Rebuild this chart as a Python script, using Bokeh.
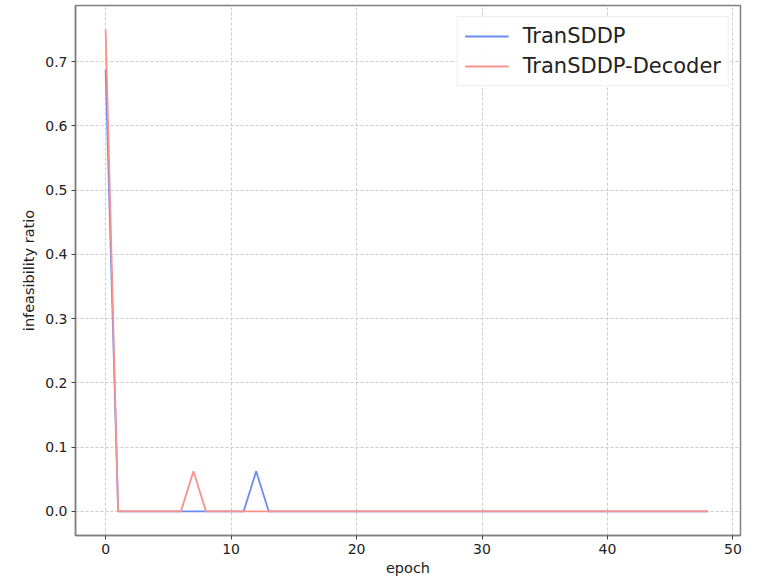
from bokeh.plotting import figure
from bokeh.models import Range1d, FixedTicker, Legend, LegendItem, CustomJSTickFormatter
from bokeh.embed import file_html
from bokeh.resources import INLINE

epochs = list(range(49))
transddp = [0.6875] + [0.0] * 48
transddp[12] = 0.0625
decoder = [0.75] + [0.0] * 48
decoder[7] = 0.0625

x_ticks = [0, 10, 20, 30, 40, 50]
y_ticks = [0.0, 0.1, 0.2, 0.3, 0.4, 0.5, 0.6, 0.7]

FONT = "DejaVu Sans"

p = figure(width=760, height=578, output_backend="svg", toolbar_location=None,
           x_range=Range1d(-2.4, 50.6), y_range=Range1d(-0.0375, 0.7875),
           min_border_left=75, min_border_right=20, min_border_top=5, min_border_bottom=43,
           x_axis_label="epoch", y_axis_label="infeasibility ratio")

p.outline_line_color = "#808080"
p.outline_line_width = 1.5

r1 = p.line(epochs, transddp, line_color="#6a8cf0", line_width=1.8)
r2 = p.line(epochs, decoder, line_color="#f8928a", line_width=1.8)

for ax in (p.xaxis[0], p.yaxis[0]):
    ax.axis_line_color = "#808080"
    ax.axis_line_width = 1.5
    ax.major_tick_line_color = "#444444"
    ax.major_tick_out = 4
    ax.major_tick_in = 0
    ax.minor_tick_line_color = None
    ax.major_label_standoff = 4
    ax.major_label_text_font = FONT
    ax.major_label_text_font_size = "14px"
    ax.major_label_text_color = "#222222"
    ax.axis_label_text_font = FONT
    ax.axis_label_text_font_size = "14.5px"
    ax.axis_label_text_font_style = "normal"
    ax.axis_label_text_color = "#222222"

p.xaxis[0].ticker = FixedTicker(ticks=x_ticks)
p.yaxis[0].ticker = FixedTicker(ticks=y_ticks)
p.yaxis[0].formatter = CustomJSTickFormatter(code="return tick.toFixed(1);")
p.xaxis[0].axis_label_standoff = 3
p.yaxis[0].axis_label_standoff = 5

p.xgrid.grid_line_color = "#cccccc"
p.ygrid.grid_line_color = "#cccccc"
p.xgrid.grid_line_dash = "3 2"
p.ygrid.grid_line_dash = "3 2"

legend = Legend(items=[LegendItem(label="TranSDDP", renderers=[r1]),
                       LegendItem(label="TranSDDP-Decoder", renderers=[r2])],
                location="top_right")
legend.label_text_font = FONT
legend.label_text_font_size = "21px"
legend.label_text_color = "#222222"
legend.glyph_width = 44
legend.label_standoff = 14
legend.spacing = 6
legend.padding = 7
legend.margin = 11
legend.border_line_color = "#dddddd"
legend.background_fill_alpha = 0.9
p.add_layout(legend)

open("out.html", "w").write(file_html(p, INLINE))
